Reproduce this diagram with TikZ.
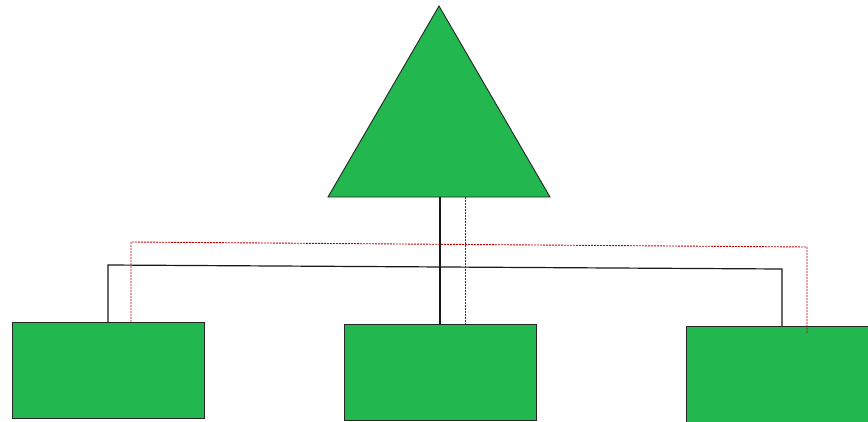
\documentclass[tikz,border=0pt]{standalone}
\definecolor{grn}{HTML}{22B74F}
\definecolor{rd}{HTML}{C00000}
\begin{document}
\begin{tikzpicture}[x=1pt,y=-1pt,
  box/.style={draw=black!85, fill=grn, line width=1.1pt, inner sep=0pt, anchor=north west},
  tri/.style={draw=black!85, fill=grn, line width=0.9pt, line join=miter},
  blk/.style={draw=black!90, line width=1.2pt},
  rdash/.style={draw=rd, line width=0.9pt, dash pattern=on 2pt off 1pt}]
\useasboundingbox (0,0) rectangle (868,421);
% triangle
\draw[tri] (439,6) coordinate (ta) -- (550,197) coordinate (tr) -- (328,197) coordinate (tl) -- cycle;
% boxes
\node[box, minimum width=192pt, minimum height=96pt] (L) at (12,322) {};
\node[box, minimum width=192pt, minimum height=96pt] (M) at (344,324) {};
\node[box, minimum width=200pt, minimum height=110pt] (R) at (686,326) {};
% coordinates
\coordinate (tb) at (440,197);
\coordinate (td) at (465,197);
\coordinate (bl) at (108,265);
\coordinate (br) at (782,269);
\coordinate (rl) at (131,242);
\coordinate (rr) at (807,247);
\coordinate (re) at (807,333);
% black connectors
\draw[blk] (tb) -- (tb |- M.north);
\draw[blk] (L.north -| bl) -- (bl) -- (br) -- (br |- R.north);
% red dashed connectors
\draw[rdash] (td) -- (td |- M.north);
\draw[rdash] (rl |- L.north) -- (rl) -- (rr) -- (re);
\end{tikzpicture}
\end{document}
